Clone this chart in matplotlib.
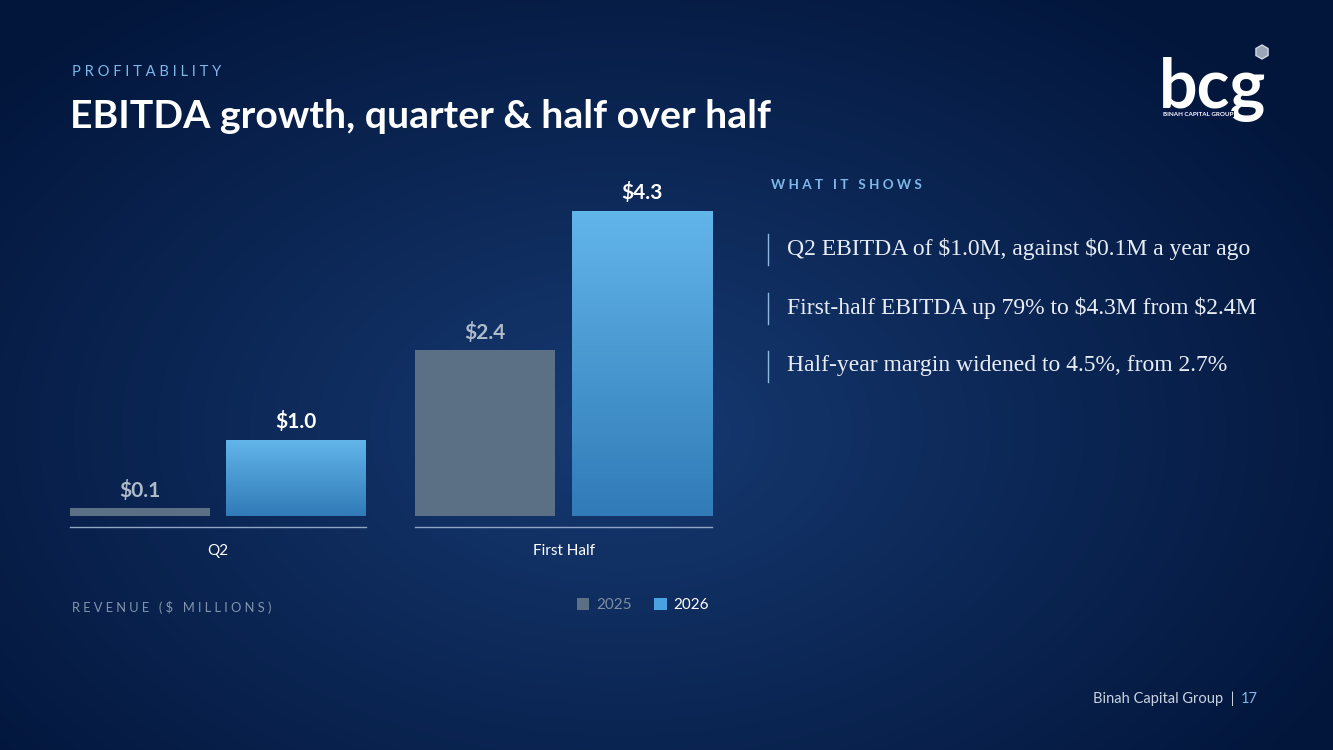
import matplotlib.pyplot as plt
import numpy as np
from matplotlib.patches import RegularPolygon, Patch
from matplotlib.lines import Line2D

# data
categories = ["Q2", "First Half"]
years = ["2025", "2026"]
values_2025 = [0.11, 2.34]
values_2026 = [1.07, 4.3]
labels_2025 = ["$0.1", "$2.4"]
labels_2026 = ["$1.0", "$4.3"]
bullets = ["Q2 EBITDA of \\$1.0M, against \\$0.1M a year ago",
           "First-half EBITDA up 79% to \\$4.3M from \\$2.4M",
           "Half-year margin widened to 4.5%, from 2.7%"]

W, H = 1333, 750
GRAY = "#5b6f85"
BLUE_TOP = np.array([0x62, 0xb5, 0xe9]) / 255
BLUE_BOT = np.array([0x30, 0x7b, 0xb8]) / 255
ACCENT = "#7db8e8"
SANS = "Lato"


def fx(px):
    return px / W


def fy(py):
    return 1 - py / H


def spaced(s):
    return " ".join(s)


fig = plt.figure(figsize=(W / 100, H / 100), dpi=100)
fig.patch.set_facecolor("#0a2458")

# background radial gradient
bg = fig.add_axes([0, 0, 1, 1], zorder=-10)
yy, xx = np.mgrid[0:H, 0:W]
d = np.sqrt(((xx - 620) / 850.0) ** 2 + ((yy - 430) / 560.0) ** 2)
d = np.clip(d, 0, 1) ** 0.9
c_in = np.array([0x17, 0x3b, 0x74]) / 255
c_out = np.array([0x02, 0x15, 0x3a]) / 255
img = c_in[None, None, :] * (1 - d[..., None]) + c_out[None, None, :] * d[..., None]
bg.imshow(img, extent=[0, W, H, 0], aspect="auto")
bg.set_xlim(0, W)
bg.set_ylim(H, 0)
bg.axis("off")

# header
fig.text(fx(72), fy(72), spaced("PROFITABILITY"), color=ACCENT, fontsize=10.6,
         family=SANS, va="center", ha="left")
fig.text(fx(70), fy(116), "EBITDA growth, quarter & half over half", color="white",
         fontsize=28.3, fontweight="bold", family=SANS, va="center", ha="left")

# logo
fig.text(fx(1159), fy(89), "bcg", color="white", fontsize=49, family=SANS,
         fontweight="bold", va="center", ha="left", zorder=2)
fig.text(fx(1163), fy(114), "BINAH CAPITAL GROUP", color="white", fontsize=4.5,
         family=SANS, fontweight="bold", va="center", ha="left", zorder=3,
         bbox=dict(facecolor="#06184a", edgecolor="none", pad=0.6))
bg.add_patch(RegularPolygon((1262, 52), 6, radius=7, facecolor="#9aa6b8",
                            edgecolor="#d0d7e2", lw=1))

# bar chart, one axes per category
ymax = 4.74
axes_px = [(70, 366), (415, 712)]
w = 0.897
for i, cat in enumerate(categories):
    x0, x1 = axes_px[i]
    ax = fig.add_axes([fx(x0), fy(516), fx(x1 - x0), (516 - 180) / H])
    ax.set_facecolor("none")
    b1 = ax.bar([0], [values_2025[i]], width=w, color=GRAY, zorder=2)
    b2 = ax.bar([1], [values_2026[i]], width=w, color=BLUE_BOT, zorder=2)
    for r in b2:
        grad = np.linspace(0, 1, 100)[:, None]
        gimg = BLUE_TOP[None, None, :] * (1 - grad[..., None]) + BLUE_BOT[None, None, :] * grad[..., None]
        gimg = np.repeat(gimg, 2, axis=1)
        ax.imshow(gimg, extent=[r.get_x(), r.get_x() + r.get_width(), 0, r.get_height()],
                  aspect="auto", zorder=3)
    ax.set_xlim(-w / 2, 1 + w / 2)
    ax.set_ylim(0, ymax)
    ax.annotate(labels_2025[i], (0, values_2025[i]), xytext=(0, 5),
                textcoords="offset points", ha="center", va="bottom", color="#aebbc9",
                fontsize=15, fontweight="bold", family=SANS)
    ax.annotate(labels_2026[i], (1, values_2026[i]), xytext=(0, 6),
                textcoords="offset points", ha="center", va="bottom", color="white",
                fontsize=15, fontweight="bold", family=SANS)
    for s in ["top", "right", "left"]:
        ax.spines[s].set_visible(False)
    ax.spines["bottom"].set_position(("outward", 8))
    ax.spines["bottom"].set_color("#8ea5c4")
    ax.spines["bottom"].set_linewidth(1)
    ax.set_yticks([])
    ax.set_xticks([0.5])
    ax.set_xticklabels([cat], color="white", fontsize=11, family=SANS)
    ax.tick_params(axis="x", length=0, pad=12)

fig.text(fx(72), fy(607), spaced("REVENUE ($ MILLIONS)"), color="#8394ad", fontsize=9.3,
         family=SANS, va="center", ha="left")

handles = [Patch(facecolor=GRAY, edgecolor="none"), Patch(facecolor="#4aa3e0", edgecolor="none")]
leg = fig.legend(handles, years, loc="center right", bbox_to_anchor=(fx(709), fy(605)),
                 frameon=False, ncol=2, handlelength=0.8, handleheight=0.8, borderpad=0,
                 borderaxespad=0, handletextpad=0.45, columnspacing=1.5,
                 prop={"family": SANS, "size": 11})
leg.get_texts()[0].set_color("#7f8ea3")
leg.get_texts()[1].set_color("white")

# right panel
fig.text(fx(771), fy(185), spaced("WHAT IT SHOWS"), color=ACCENT,
         fontsize=9.7, fontweight="bold", family=SANS, va="center", ha="left")
ys = [249, 308, 366]
for t, y in zip(bullets, ys):
    bg.add_line(Line2D([768, 768], [y - 15, y + 16], color="#8fb8e0", lw=1))
    fig.text(fx(787), fy(y), t, color="#e8edf5", fontsize=17, family="Liberation Serif",
             va="center", ha="left")

# footer
fig.text(fx(1234), fy(699), "Binah Capital Group  |", color="#c9d3e0", fontsize=10.5,
         family=SANS, va="center", ha="right")
fig.text(fx(1241), fy(699), "17", color=ACCENT, fontsize=10.5, family=SANS,
         va="center", ha="left")

fig.savefig("out.png", dpi=100)
